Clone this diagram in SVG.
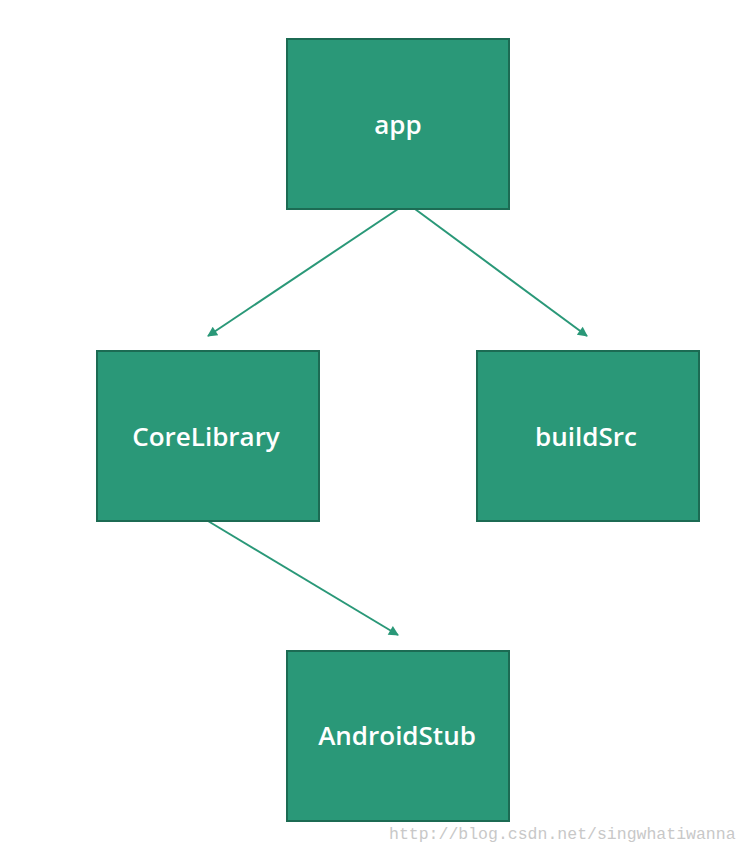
<svg xmlns="http://www.w3.org/2000/svg" width="750" height="854" viewBox="0 0 750 854">
<style>
.box{fill:#2a9878;stroke:#1c6b53;stroke-width:2}
.lbl{font-family:"Open Sans","Liberation Sans",sans-serif;font-size:26px;font-weight:600;fill:#ffffff;text-anchor:middle}
.edge{stroke:#2a9878;stroke-width:2;fill:none}
.wm{font-family:"Liberation Mono",monospace;font-size:16.5px;fill:#c8c8c8}
</style>
<defs>
<marker id="arr" viewBox="0 0 10 10" refX="9" refY="5" markerWidth="12" markerHeight="10" orient="auto" markerUnits="userSpaceOnUse">
<path d="M0,0 L10,5 L0,10 z" fill="#2a9878"/>
</marker>
</defs>
<rect width="750" height="854" fill="#ffffff"/>
<g id="connectors">
<line class="edge" x1="398" y1="209" x2="208" y2="336" marker-end="url(#arr)"/>
<line class="edge" x1="415" y1="209" x2="587" y2="336" marker-end="url(#arr)"/>
<line class="edge" x1="208" y1="521" x2="398" y2="635" marker-end="url(#arr)"/>
</g>
<g id="app">
<rect class="box" x="287" y="39" width="222" height="170"/>
<text class="lbl" x="398" y="134">app</text>
</g>
<g id="CoreLibrary">
<rect class="box" x="97" y="351" width="222" height="170"/>
<text class="lbl" x="206" y="446">CoreLibrary</text>
</g>
<g id="buildSrc">
<rect class="box" x="477" y="351" width="222" height="170"/>
<text class="lbl" x="586" y="446">buildSrc</text>
</g>
<g id="AndroidStub">
<rect class="box" x="287" y="651" width="222" height="170"/>
<text class="lbl" x="397" y="745">AndroidStub</text>
</g>
<text class="wm" x="389" y="839">http://blog.csdn.net/singwhatiwanna</text>
</svg>
